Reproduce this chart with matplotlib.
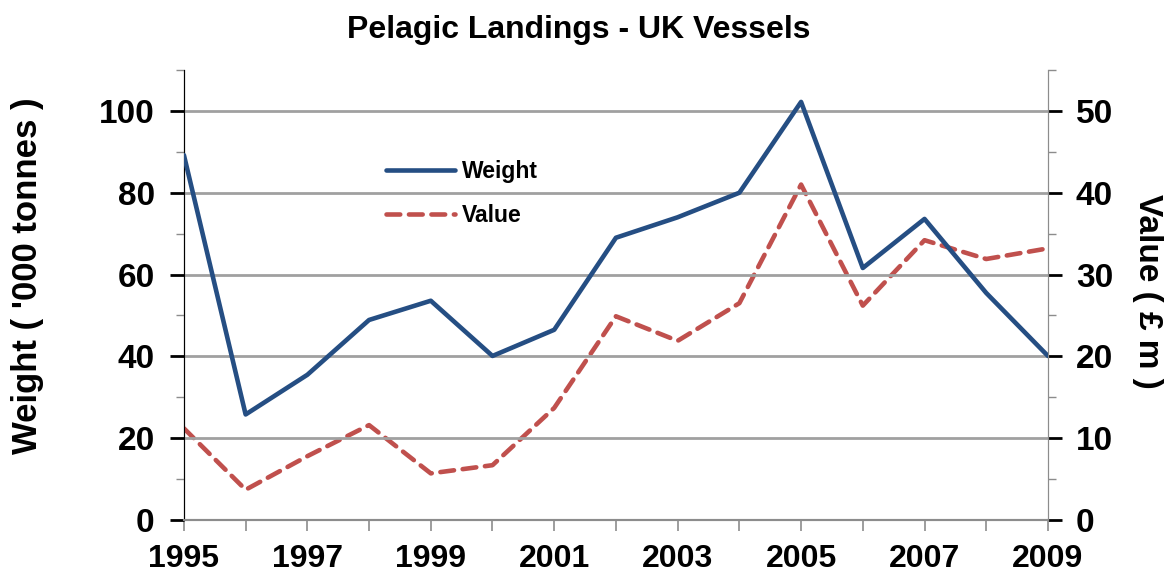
import matplotlib.pyplot as plt
from matplotlib.ticker import MultipleLocator

years = list(range(1995, 2010))
weight = [89.2, 25.8, 35.5, 48.9, 53.6, 40.1, 46.5, 69.0, 74.0, 80.0, 102.2, 61.6, 73.6, 55.5, 40.1]
value = [11.2, 3.7, 7.8, 11.6, 5.7, 6.7, 13.7, 24.9, 21.9, 26.5, 41.0, 26.2, 34.2, 31.9, 33.2]
year_labels = [str(y) if (y - 1995) % 2 == 0 else "" for y in years]

plt.rcParams["font.family"] = ["Liberation Sans", "DejaVu Sans"]
plt.rcParams["font.weight"] = "bold"

fig = plt.figure(figsize=(11.64, 5.72), dpi=100)
ax = fig.add_axes([0.158, 0.0909, 0.7423, 0.7867])
ax2 = ax.twinx()

grey = "#8c8c8c"
ax.set_xlim(1995, 2009)
ax.set_ylim(0, 110)
ax2.set_ylim(0, 55)

for v in range(20, 101, 20):
    ax.axhline(v, color="#a0a0a0", lw=2, zorder=0)

l1, = ax.plot(years, weight, color="#254E83", lw=3.3, label="Weight", solid_capstyle="round", zorder=3)
l2, = ax2.plot(years, value, color="#C0504D", lw=3.3, ls=(0, (3.0, 1.9)), label="Value",
               dash_capstyle="round", zorder=3)

ax.set_xticks(years)
ax.set_xticklabels(year_labels)
ax.yaxis.set_major_locator(MultipleLocator(20))
ax.yaxis.set_minor_locator(MultipleLocator(10))
ax2.yaxis.set_major_locator(MultipleLocator(10))
ax2.yaxis.set_minor_locator(MultipleLocator(5))

ax.tick_params(axis="x", direction="out", length=8, width=1.2, color=grey, pad=9, labelsize=23)
ax.tick_params(axis="y", which="major", direction="out", length=10, width=2, color="black", labelsize=24, pad=11)
ax.tick_params(axis="y", which="minor", direction="out", length=6, width=1, color=grey)
ax2.tick_params(axis="y", which="major", direction="out", length=10, width=2, color="black", labelsize=24, pad=10)
ax2.tick_params(axis="y", which="minor", direction="out", length=6, width=1, color=grey)

for a in (ax, ax2):
    a.spines["top"].set_visible(False)
    a.spines["left"].set_color("black")
    a.spines["right"].set_color(grey)
    a.spines["bottom"].set_color(grey)
    a.spines["bottom"].set_linewidth(1.5)
ax.set_zorder(ax2.get_zorder() + 1)
ax.patch.set_visible(False)
ax2.set_zorder(0)

ax.set_ylabel("Weight ( '000 tonnes )", fontsize=25, fontweight="bold", va="center")
ax.yaxis.set_label_coords(-0.1806, 0.542)
ax2.set_ylabel("Value ( £ m )", fontsize=24, fontweight="bold", rotation=270, va="center")
ax2.yaxis.set_label_coords(1.1157, 0.507)
fig.text(0.497, 0.948, "Pelagic Landings - UK Vessels", fontsize=23, fontweight="bold",
         ha="center", va="center")

ax.legend(handles=[l1, l2], loc="upper left", bbox_to_anchor=(0.2095, 0.845), frameon=False,
          fontsize=16.5, handlelength=3.05, handletextpad=0.3, labelspacing=0.9)

fig.savefig("out.png", dpi=100)
